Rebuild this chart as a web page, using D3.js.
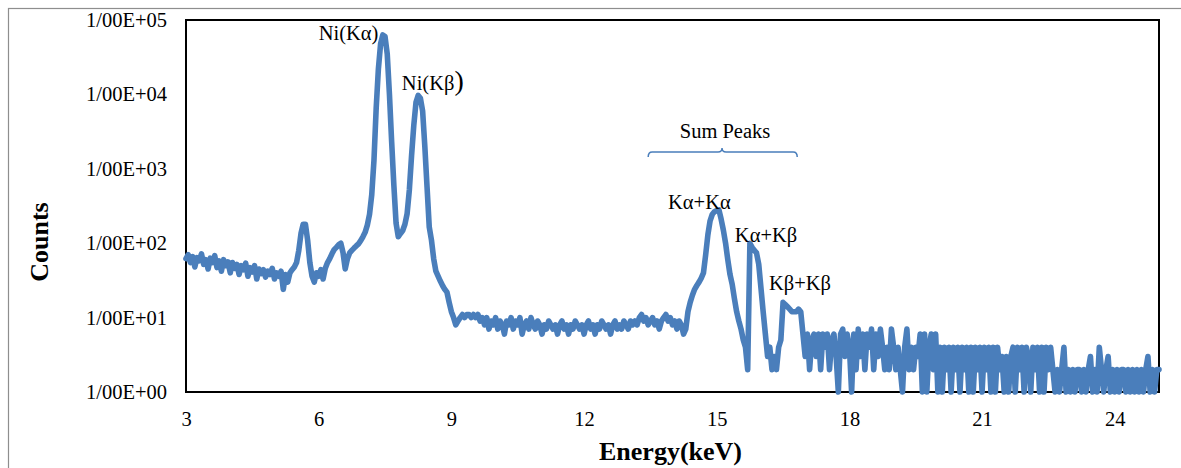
<!DOCTYPE html>
<html>
<head>
<meta charset="utf-8">
<script src="https://cdnjs.cloudflare.com/ajax/libs/d3/7.8.5/d3.min.js"></script>
<style>
  body { margin: 0; background: #fff; }
  text { font-family: "Liberation Serif", "Times New Roman", serif; }
</style>
</head>
<body>
<div id="chart"></div>
<script>
// spectrum, stored in blocks of channels (0.05 keV per channel)
var channelStep = 0.05;

// 3.00 - 7.00 keV, background + small peaks
var lowStart = 3.00;
var lowCounts = [
    62, 70, 55, 66, 48, 64, 58, 72, 52, 60,
    45, 63, 55, 68, 47, 58, 42, 60, 50, 56,
    40, 55, 46, 52, 38, 50, 44, 54, 36, 47,
    41, 50, 33, 45, 39, 44, 35, 42, 38, 46,
    33, 40, 36, 42, 24, 38, 30, 40, 44, 48,
    55, 80, 135, 180, 180, 110, 55, 36, 30, 40,
    36, 44, 33, 46, 55, 62, 72, 82, 88, 95,
    100, 75, 45, 62, 74, 80, 86, 92, 98, 108,
    122
];

// 7.05 - 9.20 keV, Ni K alpha and K beta
var niStart = 7.05;
var niCounts = [
    140, 175, 245, 450, 1300, 6500, 22000, 48000, 63000, 60000,
    35000, 10000, 2300, 600, 185, 122, 135, 148, 180, 250,
    520, 1500, 3800, 7800, 9700, 8900, 6000, 2000, 570, 165,
    110, 62, 42, 36, 31, 27, 24, 22, 16, 12,
    10, 8, 9, 10
];

// 9.25 - 14.35 keV, flat part
var flatStart = 9.25;
var flatCounts = [
    11, 10, 11, 11, 10, 11, 10, 11, 9, 10,
    8, 10, 7, 9, 8, 10, 7, 9, 8, 6,
    9, 8, 10, 7, 9, 8, 10, 6, 8, 9,
    7, 10, 8, 7, 9, 8, 6, 8, 7, 9,
    8, 7, 8, 6, 8, 9, 7, 8, 6, 8,
    7, 9, 8, 7, 8, 6, 8, 9, 7, 8,
    6, 8, 7, 9, 8, 7, 8, 6, 8, 9,
    7, 8, 7, 9, 8, 7, 9, 8, 9, 8,
    10, 11, 9, 10, 8, 9, 10, 8, 9, 7,
    9, 10, 11, 9, 10, 8, 9, 7, 9, 8,
    6, 7, 12
];

// 14.40 - 16.95 keV, sum peaks
var sumStart = 14.40;
var sumCounts = [
    16, 20, 24, 27, 30, 34, 40, 70, 130, 200,
    245, 265, 275, 280, 210, 150, 100, 60, 38, 28,
    18, 12, 9, 7, 5, 4, 2, 100, 88, 80,
    74, 52, 25, 12, 6, 3, 4, 2, 3, 2,
    4, 5, 16, 15, 14, 13, 12, 12, 12, 13,
    12, 6
];

// 17.00 - 25.00 keV, noisy tail
var tailStart = 17.00;
var tailCounts = [
    3, 6, 2, 5, 6, 3, 6, 2, 6, 4,
    6, 2, 5, 6, 3, 1, 6, 7, 3, 6,
    4, 1, 6, 2, 7, 3, 6, 2, 6, 4,
    7, 2, 6, 3, 7, 4, 2, 4, 2, 7,
    4, 2, 4, 2, 1, 4, 7, 2, 4, 2,
    4, 3, 6, 1, 6, 1, 4, 6, 2, 6,
    1, 4, 1, 4, 2, 4, 1, 4, 2, 4,
    1, 4, 2, 4, 1, 4, 1, 4, 2, 4,
    1, 4, 2, 4, 1, 4, 1, 4, 2, 3,
    1, 3, 1, 3, 4, 1, 4, 2, 4, 1,
    4, 3, 1, 4, 2, 4, 1, 4, 1, 4,
    2, 4, 2, 1, 2, 1, 2, 4, 1, 2,
    1, 2, 1, 2, 2, 1, 2, 1, 2, 3,
    1, 2, 1, 4, 2, 1, 2, 3, 1, 2,
    1, 2, 1, 2, 2, 1, 2, 1, 2, 1,
    2, 1, 2, 1, 2, 3, 1, 2, 1, 2,
    2
];

// axis ticks
var xTicks = [3, 6, 9, 12, 15, 18, 21, 24];
var yTicks = [1, 10, 100, 1000, 10000, 100000];
var yTickLabels = ["1/00E+00", "1/00E+01", "1/00E+02", "1/00E+03", "1/00E+04", "1/00E+05"];

// peak labels, anchored at (keV, counts)
var noteTexts = ["Ni(K\u03b1)", "Ni(K\u03b2", "K\u03b1+K\u03b1", "K\u03b1+K\u03b2", "K\u03b2+K\u03b2"];
var noteEnergy = [6.0, 7.88, 13.9, 15.41, 16.18];
var noteCounts = [53800, 11460, 288, 104, 23.5];

// "Sum Peaks" brace
var braceFrom = 13.45, braceTo = 16.82, braceMid = 15.12, braceCounts = 1683;

// build the point list
var blocks = [
    [lowStart, lowCounts],
    [niStart, niCounts],
    [flatStart, flatCounts],
    [sumStart, sumCounts],
    [tailStart, tailCounts]
];
var spectrum = [];
blocks.forEach(function(b) {
    b[1].forEach(function(c, i) {
        spectrum.push({ e: +(b[0] + i * channelStep).toFixed(2), c: c });
    });
});

var width = 1181, height = 468;
var blue = "#4a7ebb";

var svg = d3.select("#chart")
    .append("svg")
    .attr("width", width)
    .attr("height", height);

// outer frame (only top and left edges show)
svg.append("rect")
    .attr("x", 8.5).attr("y", 8.5)
    .attr("width", 1300).attr("height", 600)
    .attr("fill", "none")
    .attr("stroke", "#8e8e8e")
    .attr("stroke-width", 1.2);

var x = d3.scaleLinear().domain([3, 25]).range([186, 1159]);
var y = d3.scaleLog().domain([1, 100000]).range([392, 20]);

// plot box
svg.append("rect")
    .attr("x", x(3)).attr("y", y(100000))
    .attr("width", x(25) - x(3))
    .attr("height", y(1) - y(100000))
    .attr("fill", "none")
    .attr("stroke", "#000")
    .attr("stroke-width", 2);

var yAxis = svg.append("g")
    .attr("transform", "translate(" + x(3) + ",0)")
    .call(d3.axisLeft(y)
        .tickValues(yTicks)
        .tickSize(0)
        .tickPadding(19)
        .tickFormat(function(d, i) { return yTickLabels[i]; }));
yAxis.select(".domain").remove();
yAxis.selectAll("text")
    .style("font-family", "'Liberation Serif', serif")
    .style("font-size", "20.5px")
    .attr("fill", "#000");

var xAxis = svg.append("g")
    .attr("transform", "translate(0," + y(1) + ")")
    .call(d3.axisBottom(x)
        .tickValues(xTicks)
        .tickSize(0)
        .tickPadding(19));
xAxis.select(".domain").remove();
xAxis.selectAll("text")
    .style("font-family", "'Liberation Serif', serif")
    .style("font-size", "20.5px")
    .attr("fill", "#000");

// axis titles
svg.append("text")
    .attr("transform", "translate(48,242) rotate(-90)")
    .attr("text-anchor", "middle")
    .style("font-size", "26px")
    .style("font-weight", "bold")
    .text("Counts");

svg.append("text")
    .attr("x", (x(3) + x(25)) / 2 - 2)
    .attr("y", 460)
    .attr("text-anchor", "middle")
    .style("font-size", "26px")
    .style("font-weight", "bold")
    .text("Energy(keV)");

// spectrum line
var line = d3.line()
    .x(function(d) { return x(d.e); })
    .y(function(d) { return y(d.c); });

svg.append("path")
    .datum(spectrum)
    .attr("d", line)
    .attr("fill", "none")
    .attr("stroke", blue)
    .attr("stroke-width", 5.6)
    .attr("stroke-linejoin", "round")
    .attr("stroke-linecap", "round");

// peak labels
noteTexts.forEach(function(t, i) {
    var label = svg.append("text")
        .attr("x", x(noteEnergy[i]))
        .attr("y", y(noteCounts[i]))
        .style("font-size", "20.5px")
        .text(t);
    if (i == 1) {
        label.append("tspan").style("font-size", "28px").text(")");
    }
});

// sum peaks brace
var bx0 = x(braceFrom), bx1 = x(braceTo), bxm = x(braceMid), by = y(braceCounts);
svg.append("path")
    .attr("d", "M" + bx0 + "," + (by + 5) +
        " Q" + bx0 + "," + by + " " + (bx0 + 4) + "," + by +
        " L" + (bxm - 4) + "," + by +
        " Q" + bxm + "," + by + " " + bxm + "," + (by - 4) +
        " Q" + bxm + "," + by + " " + (bxm + 4) + "," + by +
        " L" + (bx1 - 4) + "," + by +
        " Q" + bx1 + "," + by + " " + bx1 + "," + (by + 5))
    .attr("fill", "none")
    .attr("stroke", blue)
    .attr("stroke-width", 1.5);

svg.append("text")
    .attr("x", bxm + 3)
    .attr("y", by - 14)
    .attr("text-anchor", "middle")
    .style("font-size", "20.5px")
    .text("Sum Peaks");
</script>
</body>
</html>
